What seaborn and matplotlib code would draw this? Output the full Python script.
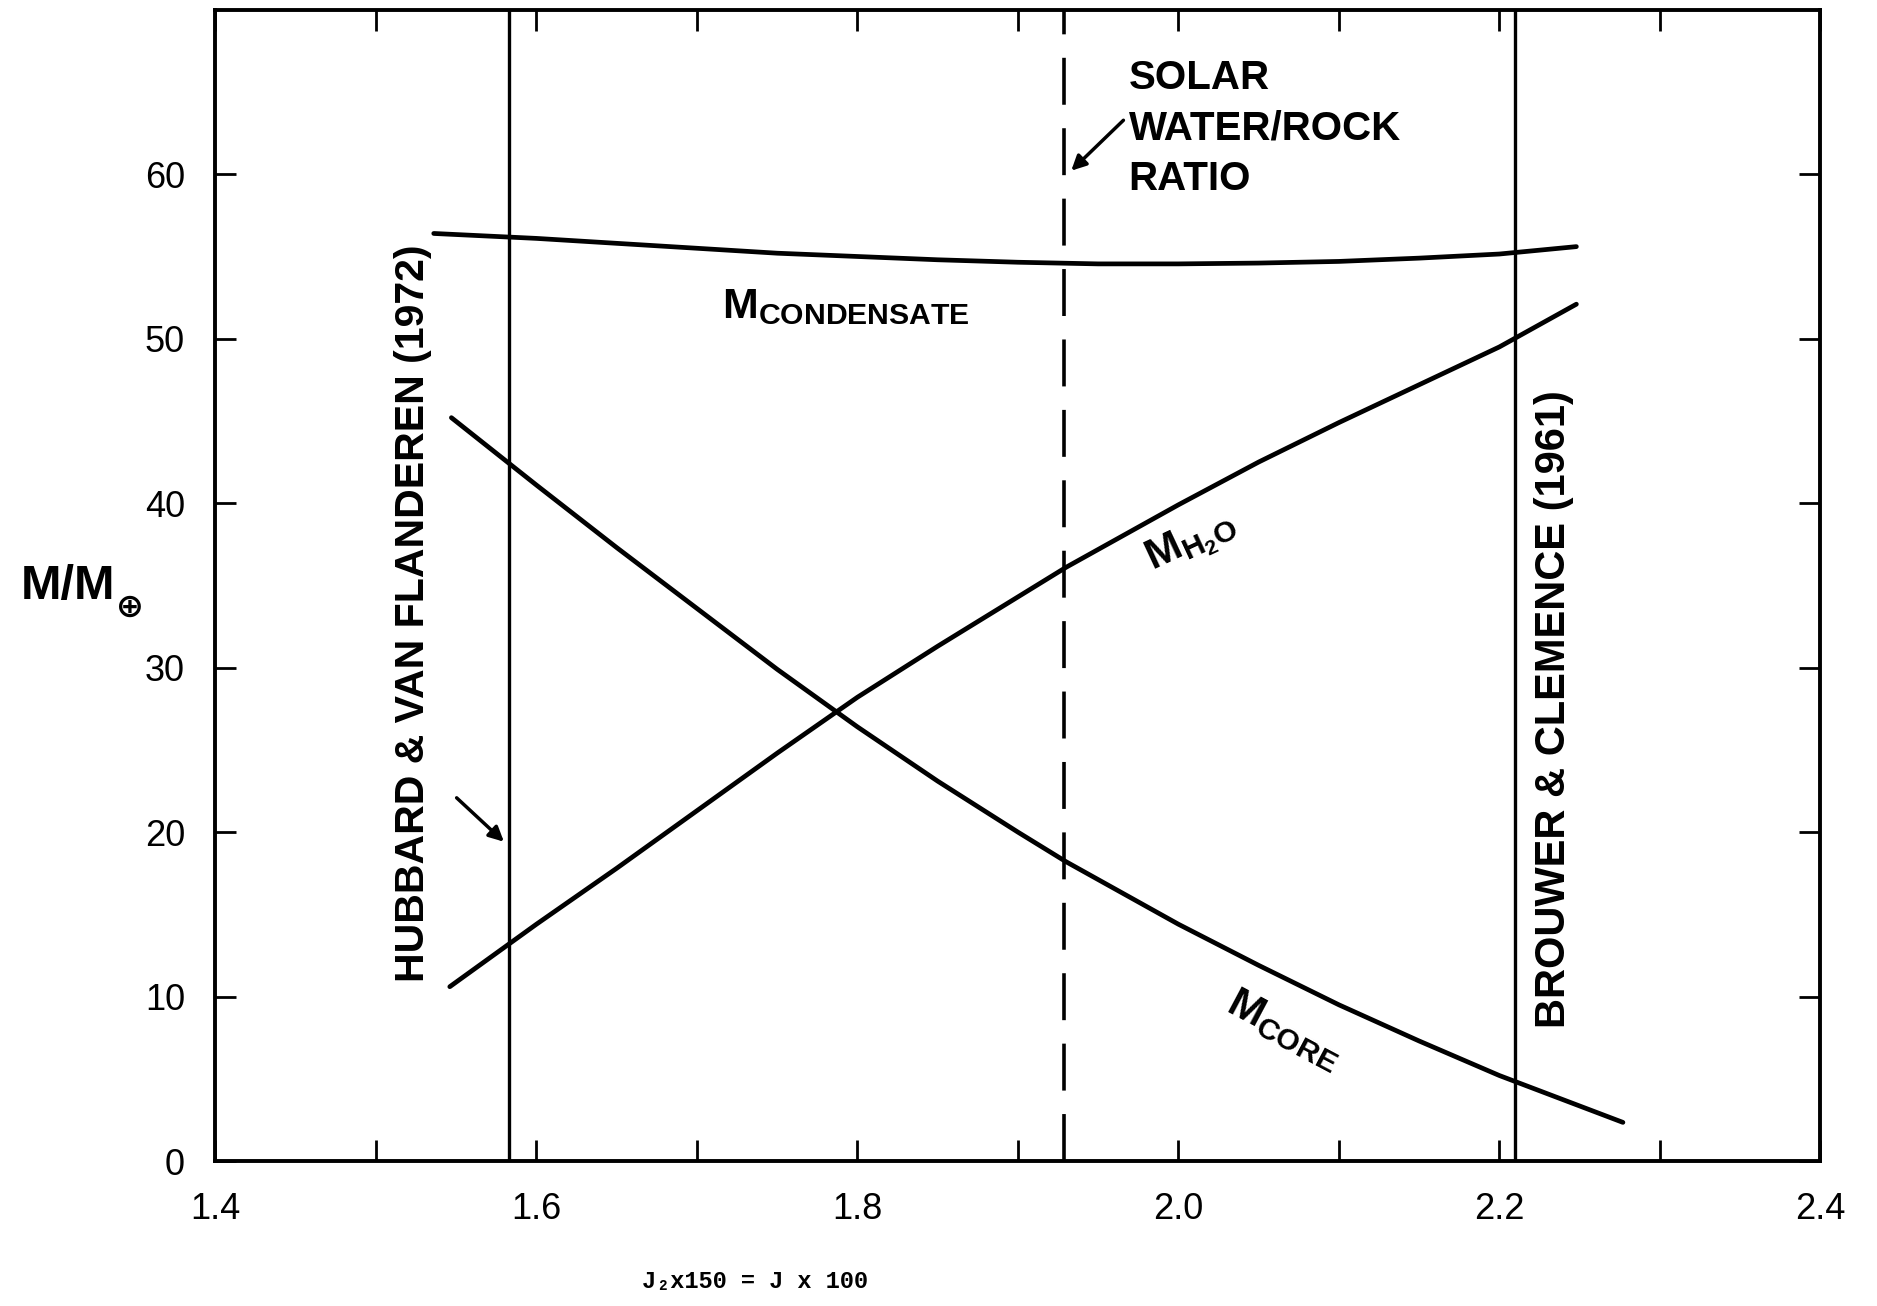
import numpy as np
import pandas as pd
import seaborn as sns
import matplotlib.pyplot as plt

# curves (J2 x 150 vs M / M_earth)
x_core = [1.547, 1.6, 1.65, 1.7, 1.75, 1.8, 1.85, 1.9, 1.93, 2.0, 2.05, 2.1, 2.15, 2.2, 2.277]
m_core = [45.2, 41.1, 37.3, 33.6, 29.9, 26.4, 23.1, 20.0, 18.2, 14.4, 11.9, 9.5, 7.3, 5.2, 2.35]

x_h2o = [1.546, 1.6, 1.65, 1.7, 1.75, 1.8, 1.85, 1.9, 1.93, 2.0, 2.05, 2.1, 2.15, 2.2, 2.248]
m_h2o = [10.6, 14.4, 17.8, 21.3, 24.8, 28.2, 31.3, 34.3, 36.1, 39.9, 42.5, 44.9, 47.2, 49.5, 52.1]

x_cond = [1.536, 1.6, 1.65, 1.7, 1.75, 1.8, 1.85, 1.9, 1.95, 2.0, 2.05, 2.1, 2.15, 2.2, 2.248]
m_cond = [56.4, 56.1, 55.8, 55.5, 55.2, 55.0, 54.8, 54.65, 54.55, 54.55, 54.6, 54.7, 54.9, 55.15, 55.6]

# reference J2 values
j2_hubbard = 1.583
j2_solar = 1.929
j2_brouwer = 2.21

x_ticks = [1.4, 1.6, 1.8, 2.0, 2.2, 2.4]
x_tick_labels = ["1.4", "1.6", "1.8", "2.0", "2.2", "2.4"]
y_ticks = [0, 10, 20, 30, 40, 50, 60]

df = pd.concat([
    pd.DataFrame({"j2": x_core, "m": m_core, "curve": "core"}),
    pd.DataFrame({"j2": x_h2o, "m": m_h2o, "curve": "h2o"}),
    pd.DataFrame({"j2": x_cond, "m": m_cond, "curve": "condensate"}),
], ignore_index=True)

sns.set_theme(style="ticks")
plt.rcParams["font.family"] = ["Liberation Sans", "DejaVu Sans"]
plt.rcParams["mathtext.fontset"] = "custom"
plt.rcParams["mathtext.rm"] = "Liberation Sans:bold"
plt.rcParams["mathtext.it"] = "Liberation Sans:bold"
plt.rcParams["mathtext.bf"] = "Liberation Sans:bold"
for k in ["text.color", "axes.labelcolor", "xtick.color", "ytick.color", "axes.edgecolor"]:
    plt.rcParams[k] = "black"

fig = plt.figure(figsize=(18.77, 13.06), dpi=100)
ax = fig.add_axes([0.1148, 0.111, 0.855, 0.8815])

sns.lineplot(data=df, x="j2", y="m", hue="curve", units="curve", estimator=None,
             palette=["black"] * 3, linewidth=3.4, legend=False, ax=ax, sort=True)

ax.axvline(j2_hubbard, color="black", lw=2.4)
ax.axvline(j2_brouwer, color="black", lw=2.4)
ax.axvline(j2_solar, color="black", lw=2.6, dashes=(13, 6.5))

ax.set_xlim(1.4, 2.4)
ax.set_ylim(0, 70)
ax.set_xticks(x_ticks)
ax.set_xticklabels(x_tick_labels)
ax.set_xticks(np.arange(1.5, 2.4, 0.2), minor=True)
ax.set_yticks(y_ticks)
ax.set_yticks([], minor=True)
ax.tick_params(axis="both", which="both", direction="in", length=15, width=2,
               top=True, right=True, color="black")
ax.tick_params(axis="both", which="major", labelsize=26, pad=22)
for lab in ax.get_xticklabels() + ax.get_yticklabels():
    lab.set_family(["Liberation Sans Narrow", "Liberation Sans"])
ax.set_xlabel("")
ax.set_ylabel("")
for sp in ax.spines.values():
    sp.set_linewidth(2.8)
    sp.set_color("black")

# curve labels
ax.text(1.793, 51.9, r"M$_{CONDENSATE}$", fontsize=31, ha="center", va="center", weight="bold")
ax.text(2.008, 37.6, r"M$_{H_2O}$", fontsize=31, ha="center", va="center", rotation=25,
        weight="bold")
ax.text(2.066, 8.0, r"M$_{CORE}$", fontsize=31, ha="center", va="center", rotation=-28,
        weight="bold")

# reference lines labels
ax.text(1.523, 33.3, "HUBBARD & VAN FLANDEREN (1972)", rotation=90, fontsize=29.5,
        ha="center", va="center", weight="bold")
ax.text(2.234, 27.5, "BROUWER & CLEMENCE (1961)", rotation=90, fontsize=30,
        ha="center", va="center", weight="bold")
ax.text(1.969, 67.0, "SOLAR\nWATER/ROCK\nRATIO", fontsize=29, ha="left", va="top",
        linespacing=1.42, weight="bold")

ax.annotate("", xy=(1.932, 60.1), xytext=(1.967, 63.4),
            arrowprops=dict(arrowstyle="-|>", color="black", lw=2.5, mutation_scale=22))
ax.annotate("", xy=(1.581, 19.3), xytext=(1.549, 22.2),
            arrowprops=dict(arrowstyle="-|>", color="black", lw=2.5, mutation_scale=22))

fig.text(0.0612, 0.5509, "M/M", fontsize=35, ha="right", va="center", weight="bold")
fig.text(0.0690, 0.5353, "\u2295", fontsize=24, ha="center", va="center",
         family="DejaVu Sans", weight="bold")
fig.text(0.402, 0.019, "J\u2082x150 = J x 100", fontsize=17, ha="center", va="center",
         family=["Liberation Mono", "DejaVu Sans Mono"], weight="bold")

fig.savefig("out.png", dpi=100, facecolor="white")
